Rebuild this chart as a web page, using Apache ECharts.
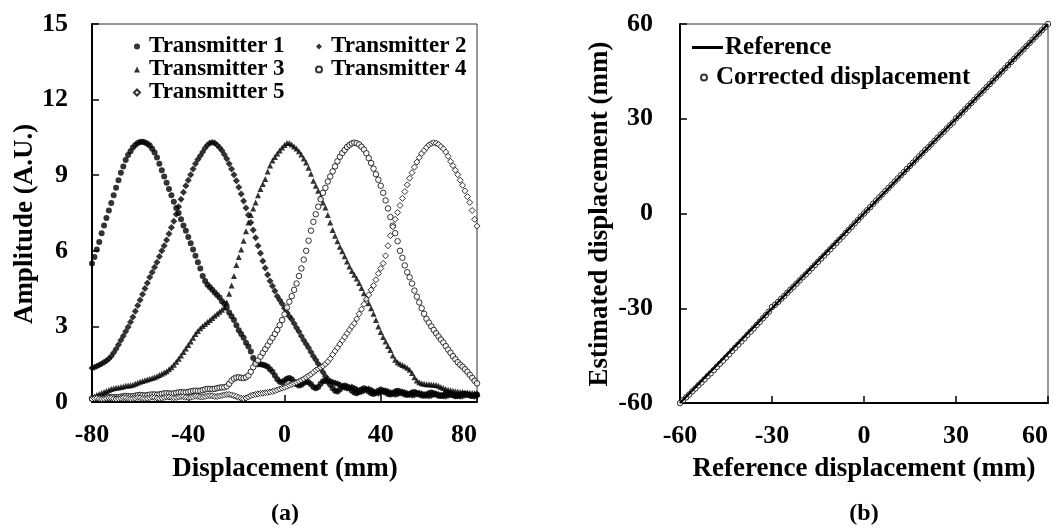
<!DOCTYPE html>
<html lang="en">
<head>
    <meta charset="UTF-8">
    <title>Transmitter amplitude / corrected displacement</title>
    <script type="text/javascript" src="https://cdn.jsdelivr.net/npm/echarts@6/dist/echarts.min.js"></script>
    <style>
        html, body { margin:0; padding:0; background:#fff; }
        #main { width:1064px; height:531px; }
    </style>
</head>
<body>
<div id="main"></div>
<script type="text/javascript">
    // (a) amplitude of each transmitter, one sample per mm of displacement
    var dispA = [-80,-79,-78,-77,-76,-75,-74,-73,-72,-71,-70,-69,-68,-67,-66,-65,-64,-63,-62,-61,
        -60,-59,-58,-57,-56,-55,-54,-53,-52,-51,-50,-49,-48,-47,-46,-45,-44,-43,-42,-41,
        -40,-39,-38,-37,-36,-35,-34,-33,-32,-31,-30,-29,-28,-27,-26,-25,-24,-23,-22,-21,
        -20,-19,-18,-17,-16,-15,-14,-13,-12,-11,-10,-9,-8,-7,-6,-5,-4,-3,-2,-1,
        0,1,2,3,4,5,6,7,8,9,10,11,12,13,14,15,16,17,18,19,20,21,22,23,24,25,26,27,28,29,30,
        31,32,33,34,35,36,37,38,39,40,41,42,43,44,45,46,47,48,49,50,51,52,53,54,55,56,57,58,59,60,
        61,62,63,64,65,66,67,68,69,70,71,72,73,74,75,76,77,78,79,80];

    var tx1 = [5.5,5.75,6.05,6.35,6.7,7.0,7.3,7.6,7.9,8.2,
        8.5,8.8,9.1,9.35,9.6,9.8,9.95,10.1,10.2,10.28,
        10.32,10.33,10.3,10.25,10.18,10.05,9.9,9.7,9.45,9.2,
        8.95,8.7,8.45,8.2,7.95,7.7,7.5,7.25,7.0,6.8,
        6.55,6.3,6.05,5.8,5.55,5.3,5.0,4.8,4.65,4.55,
        4.45,4.35,4.25,4.15,4.0,3.9,3.75,3.55,3.4,3.25,
        3.05,2.85,2.7,2.55,2.35,2.2,2.0,1.75,1.55,1.5,
        1.5,1.48,1.45,1.4,1.3,1.2,1.05,0.9,0.8,0.78,
        0.85,
        0.92,0.95,0.9,0.8,0.7,0.65,0.68,0.75,0.8,0.78,
        0.7,0.6,0.55,0.6,0.72,0.82,0.85,0.8,0.68,0.55,
        0.45,0.42,0.5,0.6,0.65,0.62,0.55,0.45,0.38,0.35,
        0.4,0.5,0.55,0.5,0.42,0.35,0.32,0.38,0.45,0.5,
        0.45,0.38,0.32,0.3,0.35,0.42,0.45,0.42,0.35,0.3,
        0.28,0.32,0.38,0.4,0.36,0.3,0.26,0.25,0.3,0.35,
        0.38,0.35,0.3,0.25,0.24,0.28,0.33,0.35,0.32,0.27,
        0.23,0.24,0.28,0.32,0.33,0.3,0.26,0.24,0.27,0.3];

    var tx2 = [1.35,1.38,1.42,1.47,1.52,1.58,1.64,1.72,1.82,1.95,
        2.1,2.27,2.45,2.62,2.8,2.98,3.17,3.37,3.6,3.83,
        4.05,4.28,4.5,4.72,4.95,5.15,5.35,5.55,5.77,6.0,
        6.2,6.43,6.68,6.92,7.17,7.45,7.75,8.05,8.32,8.58,
        8.8,9.02,9.25,9.45,9.62,9.77,9.92,10.08,10.2,10.28,
        10.3,10.28,10.2,10.1,9.98,9.82,9.65,9.45,9.25,9.02,
        8.78,8.52,8.25,7.98,7.7,7.42,7.12,6.83,6.52,6.2,
        5.9,5.6,5.32,5.05,4.8,4.6,4.4,4.2,4.05,3.9,
        3.72,
        3.55,3.4,3.28,3.12,2.95,2.8,2.62,2.45,2.3,2.15,
        1.98,1.82,1.68,1.52,1.35,1.18,1.02,0.9,0.82,0.78,
        0.75,0.72,0.68,0.62,0.58,0.55,0.57,0.6,0.55,0.5,
        0.45,0.42,0.45,0.5,0.52,0.48,0.42,0.38,0.35,0.38,
        0.42,0.45,0.42,0.38,0.33,0.3,0.32,0.36,0.4,0.38,
        0.34,0.3,0.27,0.28,0.32,0.35,0.33,0.3,0.26,0.24,
        0.26,0.3,0.32,0.3,0.27,0.24,0.23,0.26,0.29,0.3,
        0.28,0.25,0.23,0.24,0.27,0.29,0.28,0.25,0.23,0.25];

    var tx3 = [0.15,0.22,0.28,0.32,0.36,0.4,0.44,0.48,0.52,0.55,
        0.57,0.58,0.6,0.62,0.64,0.65,0.66,0.68,0.72,0.76,
        0.8,0.83,0.86,0.89,0.92,0.95,0.98,1.02,1.07,1.12,
        1.17,1.22,1.3,1.38,1.48,1.6,1.72,1.85,1.98,2.12,
        2.26,2.4,2.55,2.7,2.82,2.93,3.02,3.1,3.17,3.25,
        3.33,3.42,3.5,3.58,3.66,3.75,3.95,4.3,4.62,5.0,
        5.44,5.75,6.05,6.4,6.78,7.12,7.42,7.68,7.92,8.2,
        8.45,8.65,8.85,9.15,9.38,9.58,9.72,9.86,9.98,10.1,
        10.2,
        10.28,10.28,10.22,10.14,10.06,9.95,9.82,9.66,9.5,9.3,
        9.06,8.78,8.58,8.38,8.15,7.92,7.72,7.42,7.12,6.83,
        6.6,6.38,6.16,5.98,5.78,5.58,5.38,5.2,5.05,4.9,
        4.72,4.52,4.32,4.12,3.92,3.72,3.5,3.25,3.0,2.78,
        2.58,2.4,2.22,2.06,1.85,1.68,1.58,1.52,1.47,1.42,
        1.36,1.28,1.15,0.98,0.85,0.78,0.74,0.72,0.7,0.7,
        0.69,0.68,0.67,0.64,0.6,0.56,0.52,0.49,0.47,0.45,
        0.43,0.42,0.4,0.4,0.38,0.38,0.37,0.36,0.36,0.35];

    var tx4 = [0.15,0.16,0.17,0.16,0.15,0.16,0.18,0.2,0.2,0.19,
        0.18,0.19,0.21,0.23,0.24,0.23,0.22,0.23,0.25,0.27,
        0.28,0.27,0.26,0.27,0.29,0.3,0.3,0.29,0.3,0.32,
        0.34,0.35,0.34,0.33,0.34,0.36,0.38,0.39,0.38,0.38,
        0.4,0.42,0.44,0.45,0.44,0.45,0.47,0.5,0.52,0.52,
        0.51,0.52,0.55,0.57,0.58,0.58,0.62,0.72,0.85,0.93,
        0.97,0.98,0.96,0.95,0.98,1.05,1.2,1.38,1.52,1.65,
        1.8,1.95,2.1,2.25,2.4,2.55,2.7,2.86,3.05,3.25,
        3.48,
        3.75,3.98,4.2,4.45,4.7,5.0,5.3,5.65,6.0,6.4,
        6.8,7.15,7.45,7.75,8.05,8.3,8.5,8.75,8.95,9.15,
        9.35,9.55,9.73,9.88,10.0,10.12,10.2,10.26,10.29,10.27,
        10.22,10.13,10.02,9.87,9.68,9.48,9.26,9.04,8.82,8.58,
        8.3,8.0,7.68,7.34,7.0,6.7,6.38,6.0,5.72,5.42,
        5.15,4.95,4.7,4.42,4.18,3.95,3.72,3.5,3.3,3.15,
        3.0,2.86,2.73,2.6,2.48,2.36,2.22,2.08,1.95,1.82,
        1.7,1.58,1.48,1.4,1.3,1.2,1.08,0.96,0.84,0.74];

    var tx5 = [0.12,0.14,0.15,0.13,0.12,0.13,0.15,0.16,0.15,0.13,
        0.12,0.13,0.15,0.17,0.16,0.14,0.13,0.14,0.16,0.18,
        0.17,0.15,0.14,0.15,0.17,0.19,0.18,0.16,0.15,0.16,
        0.18,0.2,0.2,0.18,0.17,0.18,0.2,0.22,0.21,0.19,
        0.18,0.19,0.21,0.23,0.22,0.2,0.2,0.22,0.24,0.25,
        0.24,0.22,0.22,0.24,0.26,0.28,0.3,0.3,0.28,0.25,
        0.22,0.18,0.15,0.14,0.16,0.2,0.25,0.28,0.3,0.32,
        0.34,0.35,0.37,0.38,0.4,0.42,0.45,0.48,0.52,0.55,
        0.58,
        0.62,0.66,0.7,0.74,0.78,0.82,0.87,0.92,0.98,1.04,
        1.1,1.18,1.26,1.32,1.37,1.42,1.5,1.6,1.72,1.88,
        2.02,2.15,2.3,2.44,2.58,2.72,2.86,3.0,3.12,3.3,
        3.5,3.68,3.88,4.08,4.25,4.45,4.62,4.85,5.1,5.3,
        5.5,5.8,6.2,6.6,6.95,7.25,7.52,7.8,8.08,8.35,
        8.62,8.88,9.1,9.32,9.52,9.7,9.86,9.98,10.1,10.2,
        10.26,10.29,10.27,10.22,10.14,10.05,9.92,9.75,9.55,9.38,
        9.2,9.02,8.8,8.6,8.38,8.15,7.92,7.6,7.25,6.98];

    // (b) estimated vs reference displacement
    var refX = [-60,-59,-58,-57,-56,-55,-54,-53,-52,-51,-50,-49,-48,-47,-46,-45,-44,-43,-42,-41,
        -40,-39,-38,-37,-36,-35,-34,-33,-32,-31,-30,-29,-28,-27,-26,-25,-24,-23,-22,-21,
        -20,-19,-18,-17,-16,-15,-14,-13,-12,-11,-10,-9,-8,-7,-6,-5,-4,-3,-2,-1,
        0,1,2,3,4,5,6,7,8,9,10,11,12,13,14,15,16,17,18,19,20,21,22,23,24,25,26,27,28,29,
        30,31,32,33,34,35,36,37,38,39,40,41,42,43,44,45,46,47,48,49,50,51,52,53,54,55,56,57,58,59,60];

    var corrY = [-60.0,-59.1,-58.2,-57.3,-56.3,-55.4,-54.4,-53.5,-52.5,-51.5,
        -50.6,-49.6,-48.6,-47.6,-46.6,-45.6,-44.6,-43.5,-42.5,-41.5,
        -40.5,-39.5,-38.4,-37.4,-36.4,-35.3,-34.3,-33.2,-32.2,-31.1,
        -29.6,-28.9,-28.0,-27.0,-26.1,-25.1,-24.1,-23.2,-22.2,-21.2,
        -20.2,-19.3,-18.3,-17.3,-16.3,-15.3,-14.3,-13.3,-12.3,-11.3,
        -10.3,-9.3,-8.3,-7.3,-6.2,-5.2,-4.2,-3.1,-2.1,-1.0,
        0.0,1.0,2.0,3.1,4.1,5.1,6.1,7.1,8.1,9.1,
        10.1,11.1,12.1,13.1,14.1,15.1,16.1,17.1,18.1,19.1,
        20.1,21.0,22.0,23.0,24.0,25.0,25.9,26.9,27.9,28.8,
        30.1,31.0,32.0,33.0,34.0,35.0,36.0,37.0,38.0,39.0,
        40.0,41.0,42.0,43.0,44.0,45.0,46.0,47.0,48.0,49.0,
        50.0,51.0,52.0,53.0,54.0,55.0,56.0,57.0,58.0,59.0,60.0];

    var refLineX = [-60, 60];
    var refLineY = [-60, 60];

    var FONT = '"Liberation Serif", "Times New Roman", serif';

    function pairs(xs, ys) {
        var out = [];
        for (var i = 0; i < xs.length; i++) {
            out.push([xs[i], ys[i]]);
        }
        return out;
    }

    function makeX(grid, min, max, step) {
        return {
            gridIndex: grid, type: 'value', min: min, max: max, interval: step,
            axisLine: { onZero: false, lineStyle: { color: '#000', width: 2 } },
            axisTick: { inside: true, length: 7, lineStyle: { color: '#000', width: 1.5 } },
            axisLabel: { margin: 20, color: '#000', fontSize: 26, fontWeight: 'bold', fontFamily: FONT, alignMaxLabel: 'right' },
            splitLine: { show: false }
        };
    }
    function makeY(grid, min, max, step, gap) {
        return {
            gridIndex: grid, type: 'value', min: min, max: max, interval: step,
            axisLine: { onZero: false, lineStyle: { color: '#000', width: 2 } },
            axisTick: { inside: true, length: 7, lineStyle: { color: '#000', width: 1.5 } },
            axisLabel: { margin: gap, color: '#000', fontSize: 26, fontWeight: 'bold', fontFamily: FONT },
            splitLine: { show: false }
        };
    }

    function dots(name, data, symbol, size, hollow) {
        return {
            name: name, type: 'scatter', xAxisIndex: 0, yAxisIndex: 0,
            data: data, symbol: symbol, symbolSize: size, silent: true,
            itemStyle: hollow ? { color: '#fff', borderColor: '#000', borderWidth: 1 } : { color: '#000' }
        };
    }

    function title(text, x, y, rotate, size) {
        return {
            type: 'text', x: x, y: y, rotation: rotate ? Math.PI / 2 : 0,
            style: {
                text: text, fill: '#000', align: 'center', verticalAlign: 'middle',
                font: 'bold ' + size + 'px ' + FONT
            }
        };
    }

    var legText = { color: '#000', fontWeight: 'bold', fontFamily: FONT, fontSize: 23, lineHeight: 23, padding: [0, 0, 0, 4] };

    var myChart = echarts.init(document.getElementById('main'), null, { renderer: 'canvas' });
    var option = {
        animation: false,
        backgroundColor: '#fff',
        grid: [
            { left: 92, top: 24, width: 385, height: 378, show: true, borderColor: '#333', borderWidth: 1 },
            { left: 680, top: 24, width: 368, height: 379, show: true, borderColor: '#333', borderWidth: 1 }
        ],
        xAxis: [makeX(0, -80, 80, 40), makeX(1, -60, 60, 30)],
        yAxis: [makeY(0, 0, 15, 3, 24), makeY(1, -60, 60, 30, 27)],
        legend: [
            { selectedMode: false, orient: 'vertical', left: 128, top: 30, itemGap: 0, itemWidth: 6, itemHeight: 6,
              textStyle: legText, data: ['Transmitter 1', 'Transmitter 3', 'Transmitter 5'] },
            { selectedMode: false, orient: 'vertical', left: 310, top: 30, itemGap: 0, itemWidth: 6, itemHeight: 6,
              textStyle: legText, data: ['Transmitter 2', 'Transmitter 4'] },
            { selectedMode: false, left: 687, top: 30, itemWidth: 31, itemHeight: 3,
              textStyle: { color: '#000', fontWeight: 'bold', fontFamily: FONT, fontSize: 25, padding: [0, 0, 0, -3] },
              data: [{ name: 'Reference', icon: 'rect' }] },
            { selectedMode: false, left: 695, top: 60, itemWidth: 6, itemHeight: 6,
              textStyle: { color: '#000', fontWeight: 'bold', fontFamily: FONT, fontSize: 25, padding: [0, 0, 0, 4] },
              data: ['Corrected displacement'] }
        ],
        series: [
            dots('Transmitter 1', pairs(dispA, tx1), 'circle', 6, false),
            dots('Transmitter 2', pairs(dispA, tx2), 'diamond', 7, false),
            dots('Transmitter 3', pairs(dispA, tx3), 'triangle', 6, false),
            dots('Transmitter 4', pairs(dispA, tx4), 'circle', 5.5, true),
            dots('Transmitter 5', pairs(dispA, tx5), 'diamond', 6, true),
            {
                name: 'Reference', type: 'line', xAxisIndex: 1, yAxisIndex: 1,
                data: pairs(refLineX, refLineY), showSymbol: false, silent: true,
                itemStyle: { color: '#000' }, lineStyle: { color: '#000', width: 2.5 }
            },
            {
                name: 'Corrected displacement', type: 'scatter', xAxisIndex: 1, yAxisIndex: 1,
                data: pairs(refX, corrY), symbol: 'circle', symbolSize: 5.5, silent: true,
                itemStyle: { color: '#fff', borderColor: '#000', borderWidth: 1 }
            }
        ],
        graphic: [
            title('Amplitude (A.U.)', 25, 224, true, 27),
            title('Displacement (mm)', 285, 469, false, 27),
            title('(a)', 285, 514, false, 24),
            title('Estimated displacement (mm)', 600, 214, true, 27),
            title('Reference displacement (mm)', 864, 469, false, 27),
            title('(b)', 864, 514, false, 24)
        ]
    };
    // 使用指定的配置项显示图表
    myChart.setOption(option);
</script>
</body>
</html>
